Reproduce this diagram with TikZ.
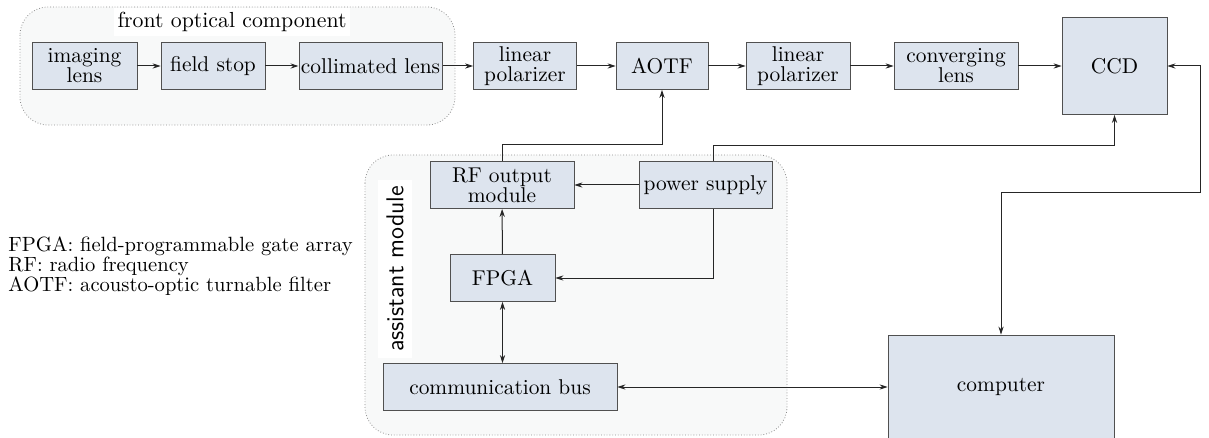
\documentclass[tikz,border=0pt]{standalone}
\usetikzlibrary{arrows.meta}

\definecolor{boxfill}{HTML}{DDE4EE}
\definecolor{boxline}{HTML}{505050}
\definecolor{groupfill}{HTML}{F8F9F9}
\definecolor{groupline}{HTML}{8C8C8C}

\begin{document}
\begin{tikzpicture}[
  x=0.5pt,y=-0.5pt,
  >={Stealth[length=4pt,width=2.6pt]},
  block/.style={draw=boxline,fill=boxfill,minimum height=23.5pt,inner sep=1pt,align=center,
    font=\fontsize{10.7}{10}\selectfont},
  group/.style={draw=groupline,densely dotted,fill=groupfill,rounded corners=14pt},
  flow/.style={->,draw=black!85,line width=0.5pt},
  link/.style={<->,draw=black!85,line width=0.5pt}
]
  \useasboundingbox (0,0) rectangle (1209,438);

  % module outlines
  \draw[group] (20,7) rectangle (455,125);
  \draw[group] (365,155) rectangle (787,435);
  \node[fill=white,inner sep=2pt,font=\fontsize{10.9}{10}\selectfont] (frontlbl) at (232,22) {front optical component};
  \node[fill=white,rotate=90,inner xsep=3pt,inner ysep=4pt,font=\sffamily\fontsize{12.2}{12}\selectfont] (assistlbl) at (395,269) {assistant module};

  % optical path
  \node[block,minimum width=52.5pt] (imaging) at (84.5,66) {imaging\\lens};
  \node[block,minimum width=52pt] (field) at (213,66) {field stop};
  \node[block,minimum width=71.5pt] (coll) at (370.5,66) {collimated lens};
  \node[block,minimum width=51.5pt] (linpolA) at (525,66) {linear\\polarizer};
  \node[block,minimum width=46pt] (aotf) at (662,66) {AOTF};
  \node[block,minimum width=52pt] (linpolB) at (798,66) {linear\\polarizer};
  \node[block,minimum width=62pt] (conv) at (956,66) {converging\\lens};
  \node[block,minimum width=52.5pt,minimum height=48.5pt] (ccd) at (1114.5,66) {CCD};

  % assistant module
  \node[block,minimum width=72pt] (rf) at (502,185) {RF output\\module};
  \node[block,minimum width=66.5pt] (power) at (705.5,185) {power supply};
  \node[block,minimum width=52.5pt] (fpga) at (502.5,278) {FPGA};
  \node[block,minimum width=117pt] (bus) at (500,387) {communication bus};
  \node[block,minimum width=113pt,minimum height=52pt] (computer) at (1001,387) {computer};

  % abbreviations
  \node[anchor=west,align=left,inner sep=0pt,font=\fontsize{10.3}{10}\selectfont] (legend) at (8,266)
    {FPGA: field-programmable gate array\\RF: radio frequency\\AOTF: acousto-optic turnable filter};

  \draw[flow] (imaging) -- (field);
  \draw[flow] (field) -- (coll);
  \draw[flow] (coll) -- (linpolA);
  \draw[flow] (linpolA) -- (aotf);
  \draw[flow] (aotf) -- (linpolB);
  \draw[flow] (linpolB) -- (conv);
  \draw[flow] (conv) -- (ccd);

  \draw[flow] (rf.north) -- ++(0,-17) -| (aotf.south);
  \draw[flow] ([xshift=4pt]power.north) -- ++(0,-16) -| (ccd.south);
  \draw[flow] (power) -- (rf);
  \draw[flow] (fpga) -- (rf);
  \draw[flow] ([xshift=4pt]power.south) |- (fpga.east);
  \draw[link] (fpga.south) -- (fpga.south |- bus.north);
  \draw[link] (bus.east) -- (bus.east -| computer.west);

  \coordinate (bend) at (1200,193);
  \draw[link] (computer.north) |- (bend) |- (ccd.east);
\end{tikzpicture}
\end{document}
